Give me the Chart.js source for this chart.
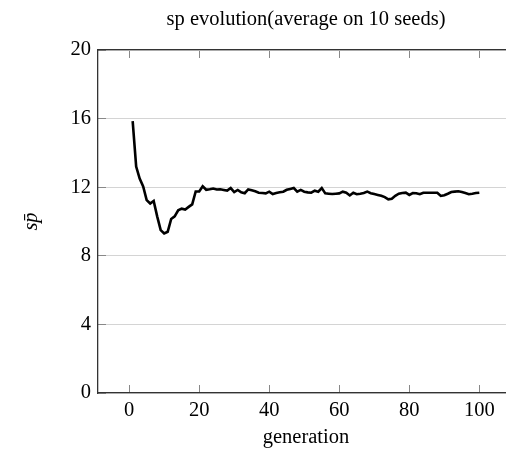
<!DOCTYPE html>
<html>
<head>
<meta charset="utf-8">
<script src="https://cdn.jsdelivr.net/npm/chart.js@4"></script>
<style>
  html, body { margin: 0; padding: 0; background: #fff; overflow: hidden; width: 506px; height: 450px; }
  #wrap { width: 530px; height: 450px; }
</style>
</head>
<body>
<div id="wrap"><canvas id="chart"></canvas></div>
<script>
// ── Données ────────────────────────────────────────────────────────────────
const generations = Array.from({ length: 100 }, (_, i) => i + 1);
const spValues = [
  15.85, 13.2, 12.5, 12.05, 11.25, 11.05, 11.2, 10.3, 9.5, 9.3,
  9.4, 10.15, 10.3, 10.65, 10.75, 10.7, 10.85, 11.0, 11.75, 11.75,
  12.05, 11.85, 11.88, 11.92, 11.87, 11.88, 11.84, 11.8, 11.95, 11.72,
  11.84, 11.7, 11.65, 11.87, 11.82, 11.76, 11.68, 11.66, 11.64, 11.74,
  11.6, 11.66, 11.7, 11.74, 11.85, 11.9, 11.95, 11.74, 11.84, 11.74,
  11.7, 11.68, 11.8, 11.74, 11.95, 11.64, 11.62, 11.6, 11.62, 11.64,
  11.74, 11.68, 11.52, 11.68, 11.59, 11.62, 11.66, 11.74, 11.65, 11.6,
  11.55, 11.5, 11.42, 11.29, 11.33, 11.5, 11.62, 11.66, 11.68, 11.55,
  11.66, 11.65, 11.59, 11.68, 11.68, 11.68, 11.68, 11.68, 11.49, 11.53,
  11.62, 11.72, 11.74, 11.76, 11.72, 11.66, 11.59, 11.62, 11.66, 11.68,
];
const xTicks = [0, 20, 40, 60, 80, 100];
const yTicks = [0, 4, 8, 12, 16, 20];

const SERIF = "'Liberation Serif', 'DejaVu Serif', serif";
const AXIS  = '#333';
const TICK  = '#888';

const fixTicks = values => scale => { scale.ticks = values.map(v => ({ value: v })); };

// ── Rendu ──────────────────────────────────────────────────────────────────
new Chart(document.getElementById('chart'), {
  type: 'line',
  data: {
    datasets: [{
      data: generations.map((g, i) => ({ x: g, y: spValues[i] })),
      borderColor: '#000',
      borderWidth: 2.6,
      pointRadius: 0,
      tension: 0,
      fill: false,
    }],
  },
  options: {
    responsive: true, maintainAspectRatio: false, animation: false,
    layout: { padding: { left: 0, right: 16, top: 0, bottom: 0 } },
    plugins: {
      legend: { display: false },
      tooltip: { enabled: false },
      title: {
        display: true, fullSize: false,
        text: 'sp evolution(average on 10 seeds)',
        color: '#000',
        font: { family: SERIF, size: 20.5, weight: 'normal' },
        padding: { top: 7.7, bottom: 17.7 },
      },
    },
    scales: {
      x: {
        type: 'linear', min: -8.9, max: 109.9,
        afterBuildTicks: fixTicks(xTicks),
        afterFit: s => { s.height = 57; },
        border: { color: AXIS, width: 1.3 },
        grid: { drawOnChartArea: false, tickLength: -8, tickColor: TICK },
        ticks: { color: '#000', padding: 13, font: { family: SERIF, size: 20.5 } },
        title: {
          display: true, text: 'generation', color: '#000',
          font: { family: SERIF, size: 20.5 }, padding: { top: 0, bottom: 0 },
        },
      },
      x2: {
        type: 'linear', position: 'top', min: -8.9, max: 109.9,
        afterBuildTicks: fixTicks(xTicks),
        afterFit: s => { s.height = 0; },
        border: { color: AXIS, width: 1.3 },
        grid: { drawOnChartArea: false, tickLength: -8, tickColor: TICK },
        ticks: { display: false },
      },
      y: {
        min: 0, max: 20,
        afterBuildTicks: fixTicks(yTicks),
        afterFit: s => { s.width = 98; },
        border: { color: AXIS, width: 1.3 },
        grid: { color: '#d4d4d4', lineWidth: 1, tickLength: -8, tickColor: TICK },
        ticks: { color: '#000', padding: 15, font: { family: SERIF, size: 20.5 } },
        title: {
          display: true, text: 's\u0070\u0304', color: '#000',
          font: { family: SERIF, size: 20.5, style: 'italic' }, padding: { top: 19, bottom: 19 },
        },
      },
    },
  },
});
</script>
</body>
</html>
